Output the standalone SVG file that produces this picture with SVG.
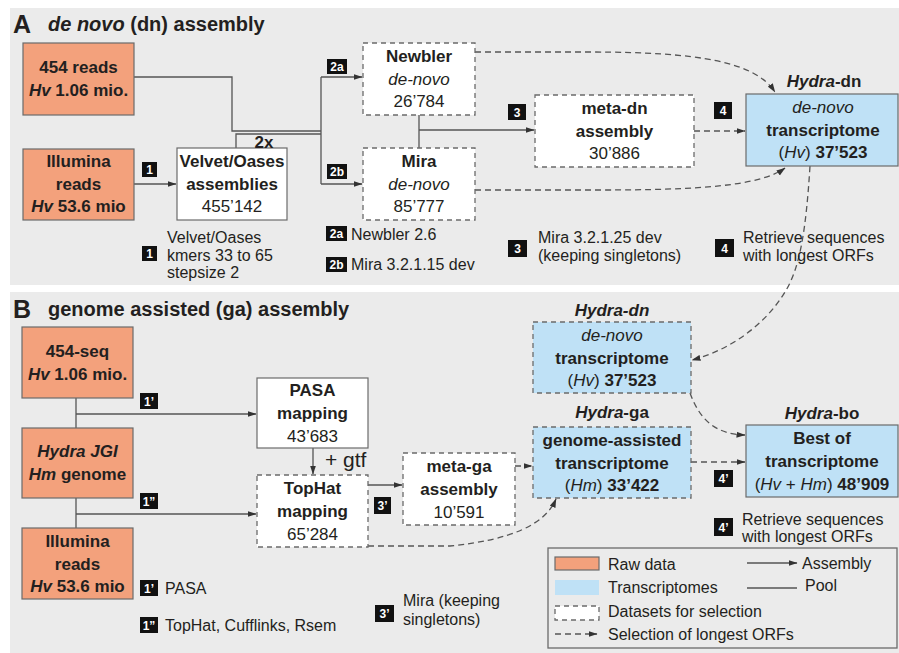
<svg xmlns="http://www.w3.org/2000/svg" width="899" height="653" viewBox="0 0 899 653">
<style>
.panel{fill:#ebebeb}
.raw{fill:#f3a17c;stroke:#6b6b6b;stroke-width:1.2}
.wh{fill:#fff;stroke:#6b6b6b;stroke-width:1.2}
.dsh{fill:#fff;stroke:#6b6b6b;stroke-width:1.3;stroke-dasharray:5 4}
.tr{fill:#bfe1f6;stroke:#6b6b6b;stroke-width:1.2}
.trd{fill:#bfe1f6;stroke:#6b6b6b;stroke-width:1.3;stroke-dasharray:5 4}
text{font-family:"Liberation Sans",Arial,sans-serif;fill:#231f20}
.nb{font-size:17px;font-weight:bold;text-anchor:middle}
.n{font-size:17px;text-anchor:middle}
.s{font-size:16px}
.ttl{font-size:20px;font-weight:bold}
.big{font-size:25px;font-weight:bold}
.i{font-style:italic}
.b{font-weight:bold}
.lab rect{fill:#111}
.lab text{fill:#fff;font-size:12px;font-weight:bold;text-anchor:middle}
.ln{fill:none;stroke:#555;stroke-width:1.3}
.dl{fill:none;stroke:#555;stroke-width:1.3;stroke-dasharray:6 4}
</style>
<defs>
<marker id="ah" viewBox="0 0 9 7" refX="8.5" refY="3.5" markerWidth="9" markerHeight="7" markerUnits="userSpaceOnUse" orient="auto">
<path d="M0,0.5 L9,3.5 L0,6.5 z" fill="#333"/>
</marker>
</defs>

<rect class="panel" x="10" y="8" width="889" height="277"/>
<rect class="panel" x="10" y="292" width="889" height="361"/>

<!-- titles -->
<text class="big" x="13" y="33">A</text>
<text class="ttl" x="48" y="31"><tspan class="i">de novo</tspan> (dn) assembly</text>
<text class="big" x="13" y="318">B</text>
<text class="ttl" x="48" y="316">genome assisted (ga) assembly</text>

<!-- connectors -->
<g id="connectors">
<path class="ln" d="M134,77 H232 V131 H321"/>
<path class="ln" d="M236,148 V134 H321"/>
<path class="ln" d="M321,77 V184"/>
<path class="ln" d="M321,77 H362" marker-end="url(#ah)"/>
<path class="ln" d="M321,184 H362" marker-end="url(#ah)"/>
<path class="ln" d="M134,184 H176" marker-end="url(#ah)"/>
<path class="ln" d="M419,115 V148"/>
<path class="ln" d="M419,130 H534" marker-end="url(#ah)"/>
<path class="dl" d="M694,131 H745" marker-end="url(#ah)"/>
<path class="dl" d="M475,52 H590 C700,52 755,62 775,92" marker-end="url(#ah)"/>
<path class="dl" d="M475,190 H600 C700,190 760,186 785,168" marker-end="url(#ah)"/>
<path class="dl" d="M810,166 C806,230 800,268 785,292 C765,325 730,350 692,360" marker-end="url(#ah)"/>

<path class="ln" d="M76,398 V428"/>
<path class="ln" d="M76,498 V528"/>
<path class="ln" d="M76,414 H256" marker-end="url(#ah)"/>
<path class="ln" d="M76,514 H256" marker-end="url(#ah)"/>
<path class="ln" d="M313,448 V474" marker-end="url(#ah)"/>
<path class="ln" d="M368,485 H402" marker-end="url(#ah)"/>
<path class="dl" d="M515,466 H532" marker-end="url(#ah)"/>
<path class="dl" d="M368,546 H450 C510,540 545,525 556,499" marker-end="url(#ah)"/>
<path class="dl" d="M690,393 C700,420 715,434 745,435" marker-end="url(#ah)"/>
<path class="dl" d="M691,462 H745" marker-end="url(#ah)"/>
</g>

<!-- Panel A nodes -->
<g id="a454">
<rect class="raw" x="23" y="43" width="111" height="72"/>
<text class="nb" x="78.5" y="73">454 reads</text>
<text class="nb" x="78.5" y="96"><tspan class="i">Hv</tspan> 1.06 mio.</text>
</g>
<g id="aIllumina">
<rect class="raw" x="23" y="149" width="111" height="71"/>
<text class="nb" x="78.5" y="167">Illumina</text>
<text class="nb" x="78.5" y="190">reads</text>
<text class="nb" x="78.5" y="212"><tspan class="i">Hv</tspan> 53.6 mio</text>
</g>
<g id="aVelvet">
<rect class="wh" x="177" y="148" width="110" height="72"/>
<text class="nb" x="232" y="167">Velvet/Oases</text>
<text class="nb" x="232" y="190">assemblies</text>
<text class="n" x="232" y="212">455’142</text>
</g>
<text class="nb" x="264" y="148">2x</text>
<g id="aNewbler">
<rect class="dsh" x="363" y="43" width="112" height="72"/>
<text class="nb" x="419" y="62">Newbler</text>
<text class="n i" x="419" y="85">de-novo</text>
<text class="n" x="419" y="107">26’784</text>
</g>
<g id="aMira">
<rect class="dsh" x="363" y="148" width="112" height="72"/>
<text class="nb" x="419" y="167">Mira</text>
<text class="n i" x="419" y="190">de-novo</text>
<text class="n" x="419" y="212">85’777</text>
</g>
<g id="aMetaDn">
<rect class="dsh" x="535" y="95" width="159" height="72"/>
<text class="nb" x="614.5" y="114">meta-dn</text>
<text class="nb" x="614.5" y="137">assembly</text>
<text class="n" x="614.5" y="159">30’886</text>
</g>
<g id="aHydraDn">
<text class="nb" x="824" y="87"><tspan class="i">Hydra</tspan>-dn</text>
<rect class="tr" x="746" y="94" width="152" height="72"/>
<text class="n i" x="823" y="113">de-novo</text>
<text class="nb" x="823" y="136">transcriptome</text>
<text class="n" x="823" y="158">(<tspan class="i">Hv</tspan>) <tspan class="b">37’523</tspan></text>
</g>

<!-- Panel A step labels -->
<g class="lab">
<rect x="142" y="162" width="15" height="15"/><text x="149.5" y="174">1</text>
<rect x="327" y="59" width="20" height="15"/><text x="337" y="71">2a</text>
<rect x="327" y="164" width="20" height="15"/><text x="337" y="176">2b</text>
<rect x="508" y="104" width="18" height="16"/><text x="517" y="116.5">3</text>
<rect x="714" y="102" width="18" height="17"/><text x="723" y="115">4</text>
<rect x="142" y="246" width="15" height="15"/><text x="149.5" y="258">1</text>
<rect x="326" y="226" width="21" height="15"/><text x="336.5" y="238">2a</text>
<rect x="326" y="257" width="21" height="15"/><text x="336.5" y="269">2b</text>
<rect x="508" y="240" width="19" height="17"/><text x="517.5" y="253">3</text>
<rect x="715" y="239" width="19" height="18"/><text x="724.5" y="252.5">4</text>
</g>
<text class="s" x="167" y="243">Velvet/Oases</text>
<text class="s" x="167" y="261">kmers 33 to 65</text>
<text class="s" x="167" y="278">stepsize 2</text>
<text class="s" x="351" y="240">Newbler 2.6</text>
<text class="s" x="351" y="270">Mira 3.2.1.15 dev</text>
<text class="s" x="538" y="243">Mira 3.2.1.25 dev</text>
<text class="s" x="538" y="261">(keeping singletons)</text>
<text class="s" x="743" y="243">Retrieve sequences</text>
<text class="s" x="743" y="261">with longest ORFs</text>

<!-- Panel B nodes -->
<g id="b454">
<rect class="raw" x="22" y="327" width="111" height="71"/>
<text class="nb" x="77.5" y="356.5">454-seq</text>
<text class="nb" x="77.5" y="379.5"><tspan class="i">Hv</tspan> 1.06 mio.</text>
</g>
<g id="bGenome">
<rect class="raw" x="22" y="428" width="111" height="70"/>
<text class="nb i" x="77.5" y="457">Hydra JGI</text>
<text class="nb" x="77.5" y="480"><tspan class="i">Hm</tspan> genome</text>
</g>
<g id="bIllumina">
<rect class="raw" x="22" y="528" width="111" height="71"/>
<text class="nb" x="77.5" y="547">Illumina</text>
<text class="nb" x="77.5" y="569.5">reads</text>
<text class="nb" x="77.5" y="592"><tspan class="i">Hv</tspan> 53.6 mio</text>
</g>
<g id="bPasa">
<rect class="wh" x="257" y="378" width="111" height="70"/>
<text class="nb" x="312.5" y="396">PASA</text>
<text class="nb" x="312.5" y="419">mapping</text>
<text class="n" x="312.5" y="441.5">43’683</text>
</g>
<text x="325" y="467" style="font-size:21px">+ gtf</text>
<g id="bTophat">
<rect class="dsh" x="257" y="475" width="111" height="72"/>
<text class="nb" x="312.5" y="494">TopHat</text>
<text class="nb" x="312.5" y="517">mapping</text>
<text class="n" x="312.5" y="539.5">65’284</text>
</g>
<g id="bMetaGa">
<rect class="dsh" x="403" y="453" width="112" height="72"/>
<text class="nb" x="459" y="472">meta-ga</text>
<text class="nb" x="459" y="495">assembly</text>
<text class="n" x="459" y="517.5">10’591</text>
</g>
<g id="bHydraDn">
<text class="nb i" x="612" y="316">Hydra-dn</text>
<rect class="trd" x="533" y="322" width="158" height="71"/>
<text class="n i" x="612" y="341">de-novo</text>
<text class="nb" x="612" y="363.5">transcriptome</text>
<text class="n" x="612" y="386">(<tspan class="i">Hv</tspan>) <tspan class="b">37’523</tspan></text>
</g>
<g id="bHydraGa">
<text class="nb" x="612" y="418"><tspan class="i">Hydra</tspan>-ga</text>
<rect class="trd" x="533" y="427" width="158" height="71"/>
<text class="nb" x="612" y="446">genome-assisted</text>
<text class="nb" x="612" y="468.5">transcriptome</text>
<text class="n" x="612" y="491">(<tspan class="i">Hm</tspan>) <tspan class="b">33’422</tspan></text>
</g>
<g id="bHydraBo">
<text class="nb" x="822" y="419"><tspan class="i">Hydra</tspan>-bo</text>
<rect class="tr" x="746" y="425" width="152" height="72"/>
<text class="nb" x="822" y="444">Best of</text>
<text class="nb" x="822" y="467">transcriptome</text>
<text class="n" x="822" y="489.5">(<tspan class="i">Hv</tspan> + <tspan class="i">Hm</tspan>) <tspan class="b">48’909</tspan></text>
</g>

<!-- Panel B step labels -->
<g class="lab">
<rect x="140" y="393" width="18" height="16"/><text x="149" y="405.5">1’</text>
<rect x="140" y="493" width="18" height="16"/><text x="149" y="505.5">1”</text>
<rect x="374" y="497" width="17" height="17"/><text x="382.5" y="510">3’</text>
<rect x="714" y="470" width="19" height="17"/><text x="723.5" y="483">4’</text>
<rect x="714" y="518" width="19" height="18"/><text x="723.5" y="531.5">4’</text>
<rect x="140" y="580" width="18" height="16"/><text x="149" y="592.5">1’</text>
<rect x="140" y="617" width="18" height="16"/><text x="149" y="629.5">1”</text>
<rect x="375" y="605" width="19" height="17"/><text x="384.5" y="618">3’</text>
</g>
<text class="s" x="165" y="594">PASA</text>
<text class="s" x="165" y="631">TopHat, Cufflinks, Rsem</text>
<text class="s" x="403" y="606">Mira (keeping</text>
<text class="s" x="403" y="625">singletons)</text>
<text class="s" x="742" y="525">Retrieve sequences</text>
<text class="s" x="742" y="542">with longest ORFs</text>

<!-- legend -->
<g id="legend">
<rect x="548" y="548" width="349" height="100" fill="none" stroke="#6b6b6b" stroke-width="1.3"/>
<rect class="raw" x="555" y="557" width="44" height="13"/>
<rect x="555" y="580" width="44" height="15" fill="#bfe1f6"/>
<rect class="dsh" x="555" y="606" width="44" height="14"/>
<path class="dl" d="M555,634 H597" marker-end="url(#ah)"/>
<text class="s" x="608" y="570">Raw data</text>
<text class="s" x="608" y="593">Transcriptomes</text>
<text class="s" x="608" y="617">Datasets for selection</text>
<text class="s" x="608" y="640">Selection of longest ORFs</text>
<path class="ln" d="M747,563 H797" marker-end="url(#ah)"/>
<text class="s" x="802" y="569">Assembly</text>
<path class="ln" d="M747,588 H797"/>
<text class="s" x="805" y="591">Pool</text>
</g>
</svg>
